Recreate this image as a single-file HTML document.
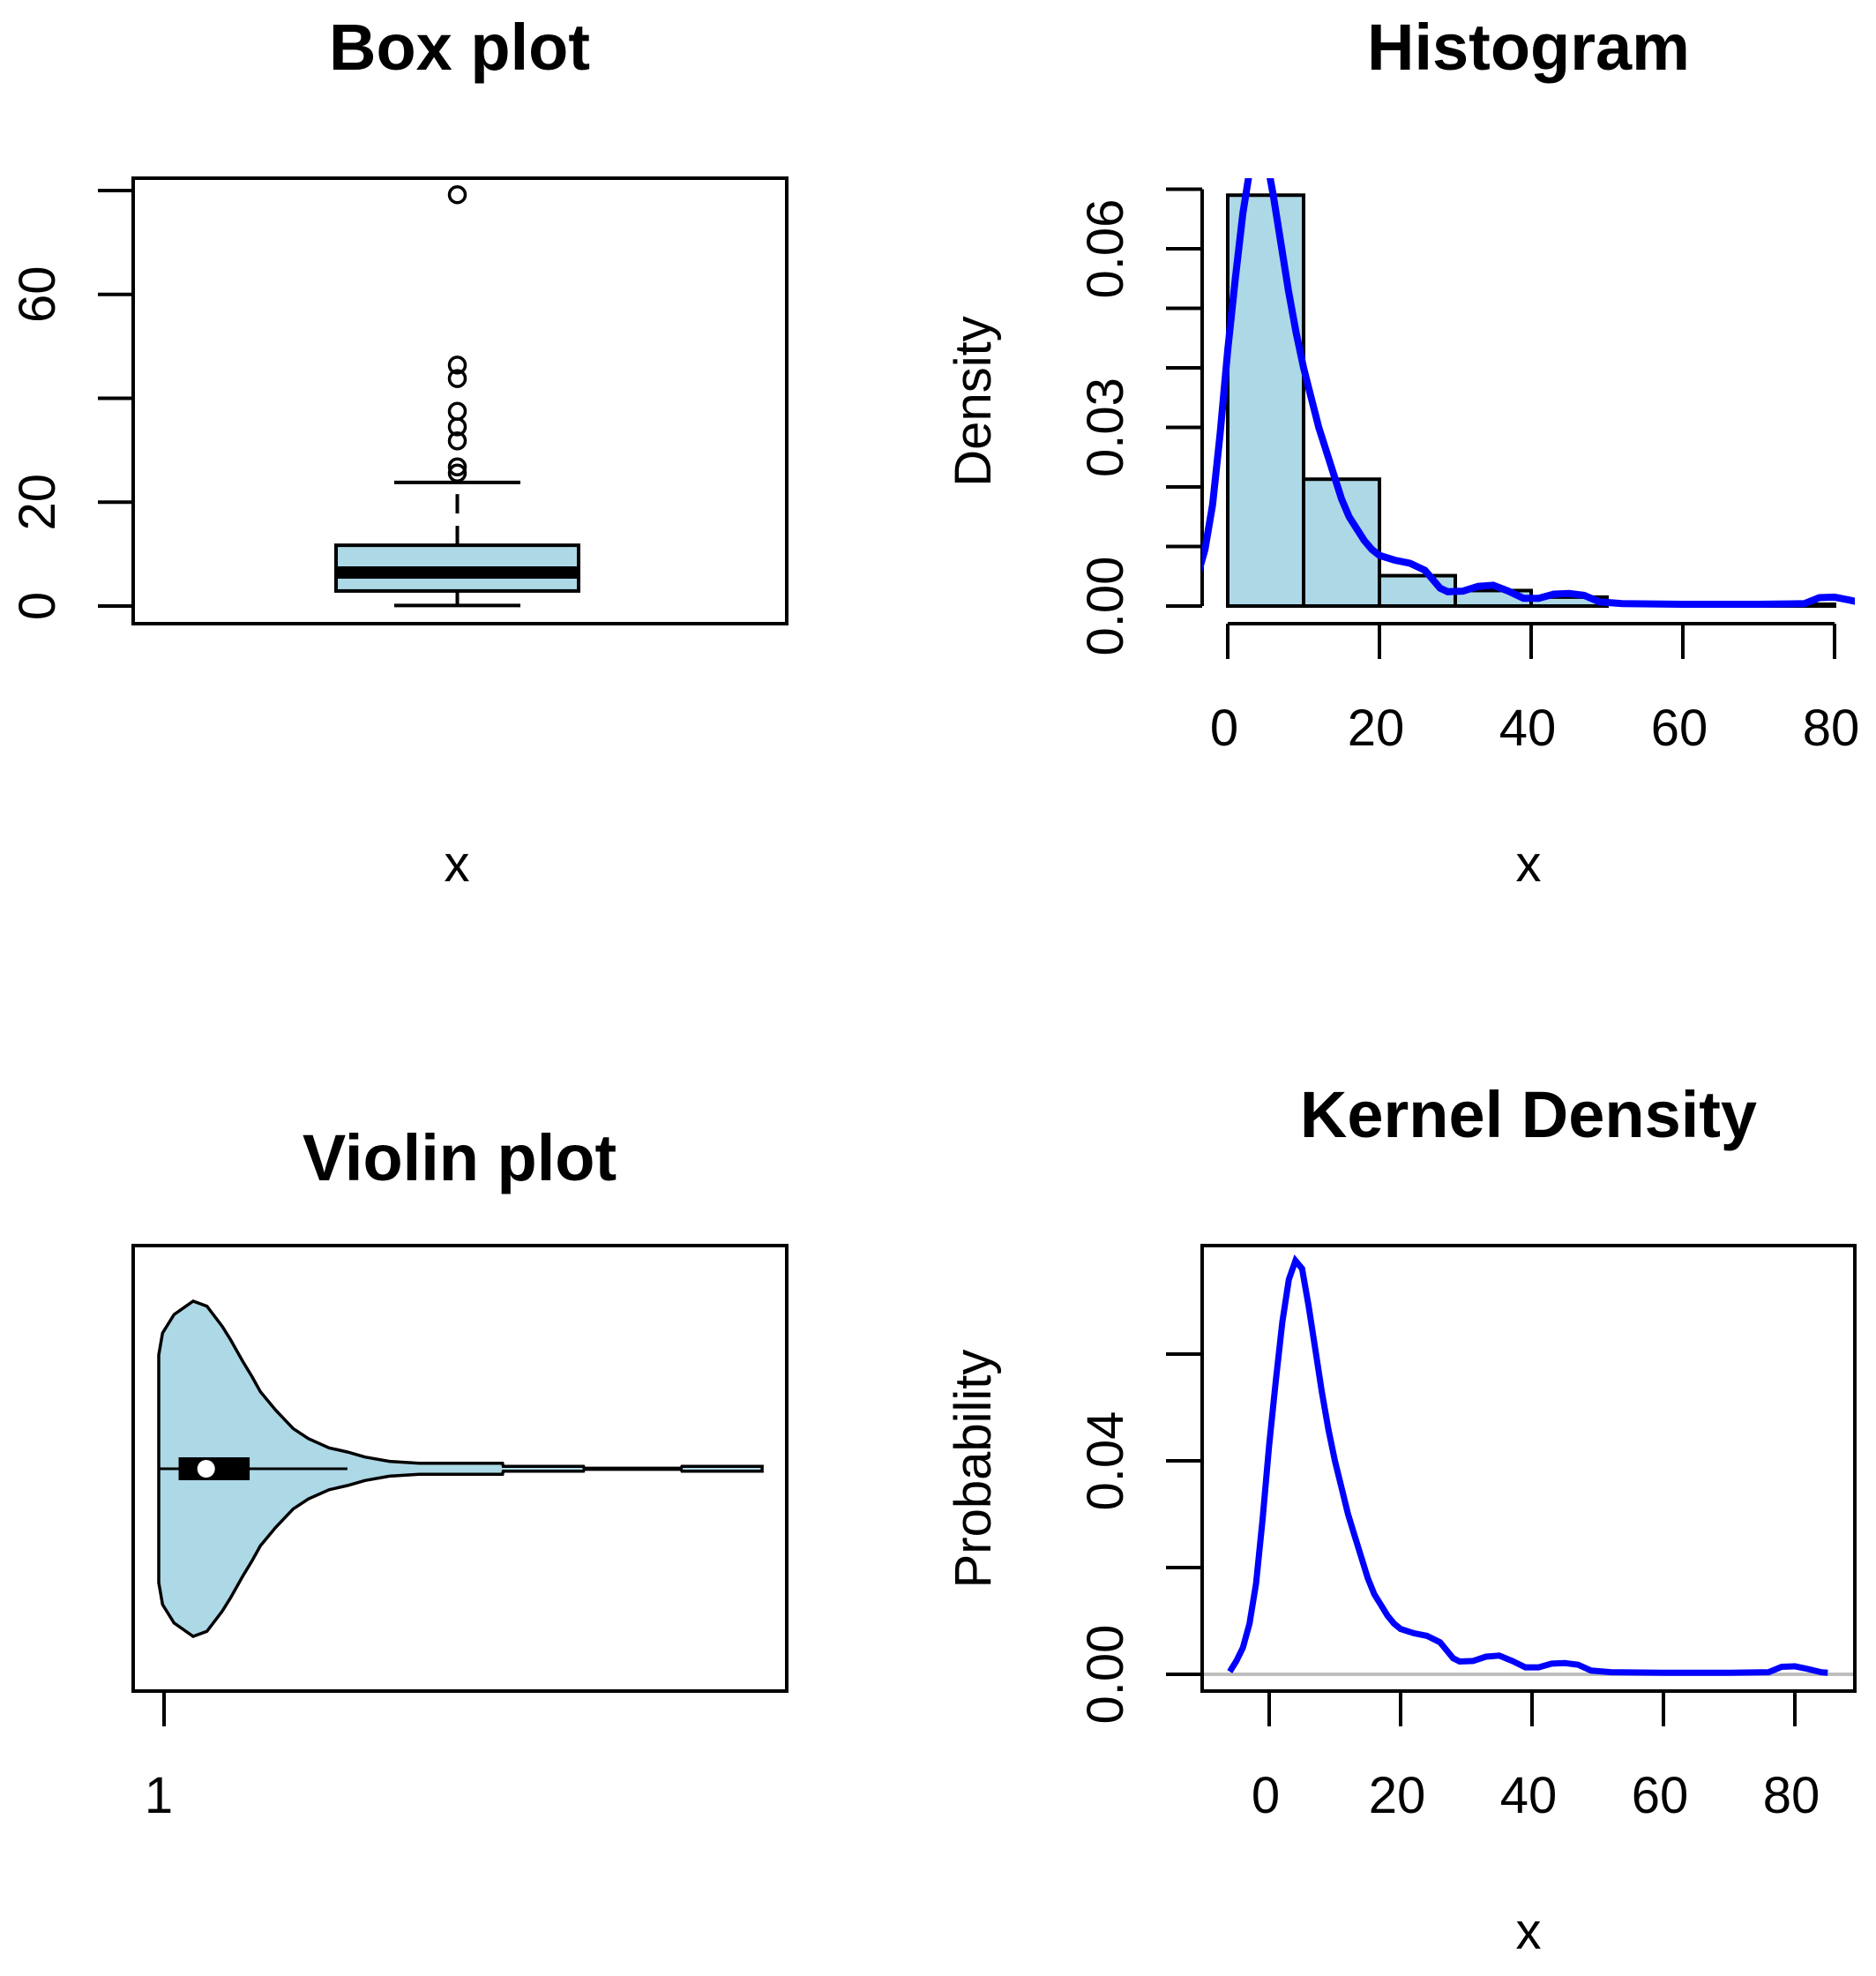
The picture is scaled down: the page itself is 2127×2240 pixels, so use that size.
<!DOCTYPE html>
<html><head><meta charset="utf-8"><style>
html,body{margin:0;padding:0;background:#fff;}
svg{display:block;}
text{font-family:"Liberation Sans",Arial,sans-serif;fill:#000;}
.t{font-weight:bold;font-size:74px;}
.l{font-size:58px;}
</style></head><body>
<svg id="svg" width="2127" height="2240" viewBox="0 0 2127 2240" xmlns="http://www.w3.org/2000/svg">
<defs>
<clipPath id="clipH"><rect x="1363" y="202" width="740" height="505"/></clipPath>
<clipPath id="clipK"><rect x="1363" y="1412" width="740" height="505"/></clipPath>
</defs>
<g id="box"></g>
<g id="hist"></g>
<g id="vio"></g>
<g id="kd"></g>
</svg>
<script>
// ---- data ----
const boxStats = [0.1, 2.9, 6.45, 11.7, 23.8]; // min, q1, median, q3, upper whisker
const boxOutliers = [79.2, 46.4, 43.8, 37.5, 34.5, 31.8, 26.8, 25.6];
const boxTicks = [0, 20, 40, 60, 80];
const boxTickLabels = ["0", "20", "", "60", ""];

const histBreaks = [0, 10, 20, 30, 40, 50, 60, 70, 80];
const histDensity = [0.069, 0.0213, 0.0051, 0.0026, 0.0015, 0, 0, 0.0003];
const histYTicks = [0, 0.01, 0.02, 0.03, 0.04, 0.05, 0.06, 0.07];
const histYLabels = ["0.00", "", "", "0.03", "", "", "0.06", ""];
const xTicks = [0, 20, 40, 60, 80];
const xTickLabels = ["0", "20", "40", "60", "80"];

const densX = [-6,-5,-4,-3,-2,-1,0,1,2,3,4,5,6,7,8,9,10,11,12,13,14,15,16,17,18,19,20,22,24,26,27,28,29,31,33,35,37,39,41,43,45,47,49,52,60,70,76,78,80,82,84,85];
const densY = [0.0005,0.0025,0.005,0.0095,0.017,0.029,0.043,0.055,0.066,0.074,0.0775,0.076,0.069,0.061,0.053,0.046,0.040,0.035,0.030,0.026,0.022,0.018,0.015,0.013,0.011,0.0095,0.0085,0.0077,0.0072,0.006,0.0045,0.003,0.0024,0.0025,0.0033,0.0035,0.0025,0.0013,0.0013,0.002,0.0021,0.0018,0.0007,0.0004,0.0003,0.0003,0.0004,0.0014,0.0015,0.001,0.0004,0.0003];
const kdYTicks = [0, 0.02, 0.04, 0.06];
const kdYLabels = ["0.00", "", "0.04", ""];

const vioX = [0,0.5,2.0,4.5,6.3,8.3,9.4,11.0,12.2,13.3,15.3,17.6,19.6,22.3,24.7,27.0,30.2,34.1,45.0,45.1,55.6,55.7,68.4,68.5,79];
const vioW = [0.68,0.81,0.92,1.0,0.97,0.85,0.77,0.64,0.55,0.46,0.35,0.24,0.18,0.125,0.10,0.07,0.044,0.033,0.033,0.014,0.014,0.003,0.003,0.014,0.014];
const vioBox = [2.6, 6.2, 11.9, 24.7]; // q1, median, q3, whisker

const NS = "http://www.w3.org/2000/svg";
function mk(parent, tag, attrs, txt){
  const e = document.createElementNS(NS, tag);
  for (const k in attrs) e.setAttribute(k, attrs[k]);
  if (txt !== undefined) e.textContent = txt;
  parent.appendChild(e);
  return e;
}
function text(parent, x, y, s, cls, rot){
  const t = mk(parent, "text", {x:x, y:y, "text-anchor":"middle", "class":cls}, s);
  if (rot) t.setAttribute("transform", "rotate(-90 " + x + " " + y + ")");
  return t;
}

// ---- Box plot ----
(function(){
  const g = document.getElementById("box");
  const y = v => 687 - v * 5.8875;
  const cx = 518.5;
  let e;
  e = text(g, 521, 79, "Box plot", "t");
  
  
  e = mk(g, "rect", {x:151, y:202, width:741, height:505, fill:"none", stroke:"#000", "stroke-width":4});
  
  
  e = mk(g, "line", {x1:151, x2:151, y1:y(boxTicks[0]), y2:y(boxTicks[boxTicks.length-1]), stroke:"#000", "stroke-width":4});
  
  
  boxTicks.forEach((v,i) => {
    const t = mk(g, "line", {x1:111, x2:151, y1:y(v), y2:y(v), stroke:"#000", "stroke-width":4});
    
    
    if (boxTickLabels[i]) {
      const l = text(g, 62, y(v), boxTickLabels[i], "l", true);
      
      
    }
  });
  e = mk(g, "line", {x1:cx, x2:cx, y1:y(boxStats[0]), y2:y(boxStats[1]), stroke:"#000", "stroke-width":4});
  
  
  e = mk(g, "line", {x1:cx, x2:cx, y1:y(boxStats[3]), y2:y(boxStats[4]), stroke:"#000", "stroke-width":4, "stroke-dasharray":"22 14"});
  
  
  e = mk(g, "line", {x1:447, x2:590, y1:y(boxStats[0]), y2:y(boxStats[0]), stroke:"#000", "stroke-width":4});
  
  
  e = mk(g, "line", {x1:447, x2:590, y1:y(boxStats[4]), y2:y(boxStats[4]), stroke:"#000", "stroke-width":4});
  
  
  e = mk(g, "rect", {x:381, y:y(boxStats[3]), width:275, height:y(boxStats[1])-y(boxStats[3]), fill:"#add8e6", stroke:"#000", "stroke-width":4});
  
  
  e = mk(g, "line", {x1:381, x2:656, y1:y(boxStats[2]), y2:y(boxStats[2]), stroke:"#000", "stroke-width":14});
  
  
  boxOutliers.forEach(v => {
    const c = mk(g, "circle", {cx:cx, cy:y(v), r:9, fill:"none", stroke:"#000", "stroke-width":3.5});
    
    
  });
  e = text(g, 518, 999, "x", "l");
  
  
})();

// ---- Histogram ----
(function(){
  const g = document.getElementById("hist");
  const x = v => 1392 + v * 8.6;
  const y = v => 687 - v * 6750;
  let e;
  e = text(g, 1733, 79, "Histogram", "t");
  
  
  histDensity.forEach((d,i) => {
    const r = mk(g, "rect", {x:x(histBreaks[i]), y:y(d), width:x(histBreaks[i+1])-x(histBreaks[i]), height:y(0)-y(d), fill:"#add8e6", stroke:"#000", "stroke-width":4});
    
    
  });
  e = mk(g, "line", {x1:1363, x2:1363, y1:y(histYTicks[0]), y2:y(histYTicks[histYTicks.length-1]), stroke:"#000", "stroke-width":4});
  
  
  histYTicks.forEach((v,i) => {
    const t = mk(g, "line", {x1:1322, x2:1363, y1:y(v), y2:y(v), stroke:"#000", "stroke-width":4});
    
    
    if (histYLabels[i]) {
      const l = text(g, 1273, y(v), histYLabels[i], "l", true);
      
      
    }
  });
  e = mk(g, "line", {x1:x(xTicks[0]), x2:x(xTicks[xTicks.length-1]), y1:707, y2:707, stroke:"#000", "stroke-width":4});
  
  
  xTicks.forEach((v,i) => {
    const t = mk(g, "line", {x1:x(v), x2:x(v), y1:707, y2:747, stroke:"#000", "stroke-width":4});
    
    
    const l = text(g, x(v)-4, 845, xTickLabels[i], "l");
    
    
  });
  const pts = densX.map((v,i) => x(v).toFixed(1) + "," + y(densY[i]).toFixed(1)).join(" ");
  e = mk(g, "polyline", {points:pts, fill:"none", stroke:"#0000ff", "stroke-width":8, "clip-path":"url(#clipH)"});
  
  
  e = text(g, 1123, 455, "Density", "l", true);
  
  
  e = text(g, 1733, 999, "x", "l");
  
  
})();

// ---- Violin ----
(function(){
  const g = document.getElementById("vio");
  const x = v => 180 + v * 8.66;
  const cy = 1665, W = 190;
  let e;
  e = text(g, 521, 1338, "Violin plot", "t");
  
  
  e = mk(g, "rect", {x:151, y:1412, width:741, height:505, fill:"none", stroke:"#000", "stroke-width":4});
  
  
  let d = "M" + x(vioX[0]) + "," + (cy - vioW[0]*W);
  vioX.forEach((v,i) => { d += " L" + x(v).toFixed(1) + "," + (cy - vioW[i]*W).toFixed(1); });
  for (let i = vioX.length-1; i >= 0; i--) d += " L" + x(vioX[i]).toFixed(1) + "," + (cy + vioW[i]*W).toFixed(1);
  d += " Z";
  e = mk(g, "path", {d:d, fill:"#add8e6", stroke:"#000", "stroke-width":3.5});
  
  
  e = mk(g, "line", {x1:x(vioX[0]), x2:x(vioBox[3]), y1:cy, y2:cy, stroke:"#000", "stroke-width":3});
  
  
  e = mk(g, "rect", {x:x(vioBox[0]), y:cy-13, width:x(vioBox[2])-x(vioBox[0]), height:26, fill:"#000"});
  
  
  e = mk(g, "circle", {cx:x(vioBox[1]), cy:cy, r:10, fill:"#fff"});
  
  
  e = mk(g, "line", {x1:186, x2:186, y1:1917, y2:1957, stroke:"#000", "stroke-width":4});
  
  
  e = text(g, 180, 2055, "1", "l");
  
  
})();

// ---- Kernel density ----
(function(){
  const g = document.getElementById("kd");
  const x = v => 1439 + v * 7.45;
  const y = v => 1898 - v * 6050;
  let e;
  e = text(g, 1733, 1289, "Kernel Density", "t");
  
  
  e = mk(g, "line", {x1:1363, x2:2103, y1:y(0), y2:y(0), stroke:"#bebebe", "stroke-width":4});
  
  
  const pts = densX.map((v,i) => x(v).toFixed(1) + "," + y(densY[i]).toFixed(1)).join(" ");
  e = mk(g, "polyline", {points:pts, fill:"none", stroke:"#0000ff", "stroke-width":7, "clip-path":"url(#clipK)"});
  
  
  e = mk(g, "rect", {x:1363, y:1412, width:740, height:505, fill:"none", stroke:"#000", "stroke-width":4});
  
  
  kdYTicks.forEach((v,i) => {
    const t = mk(g, "line", {x1:1322, x2:1363, y1:y(v), y2:y(v), stroke:"#000", "stroke-width":4});
    
    
    if (kdYLabels[i]) {
      const l = text(g, 1273, y(v), kdYLabels[i], "l", true);
      
      
    }
  });
  xTicks.forEach((v,i) => {
    const t = mk(g, "line", {x1:x(v), x2:x(v), y1:1917, y2:1957, stroke:"#000", "stroke-width":4});
    
    
    const l = text(g, x(v)-4, 2055, xTickLabels[i], "l");
    
    
  });
  e = text(g, 1123, 1665, "Probability", "l", true);
  
  
  e = text(g, 1733, 2209, "x", "l");
  
  
})();
</script>
</body></html>
